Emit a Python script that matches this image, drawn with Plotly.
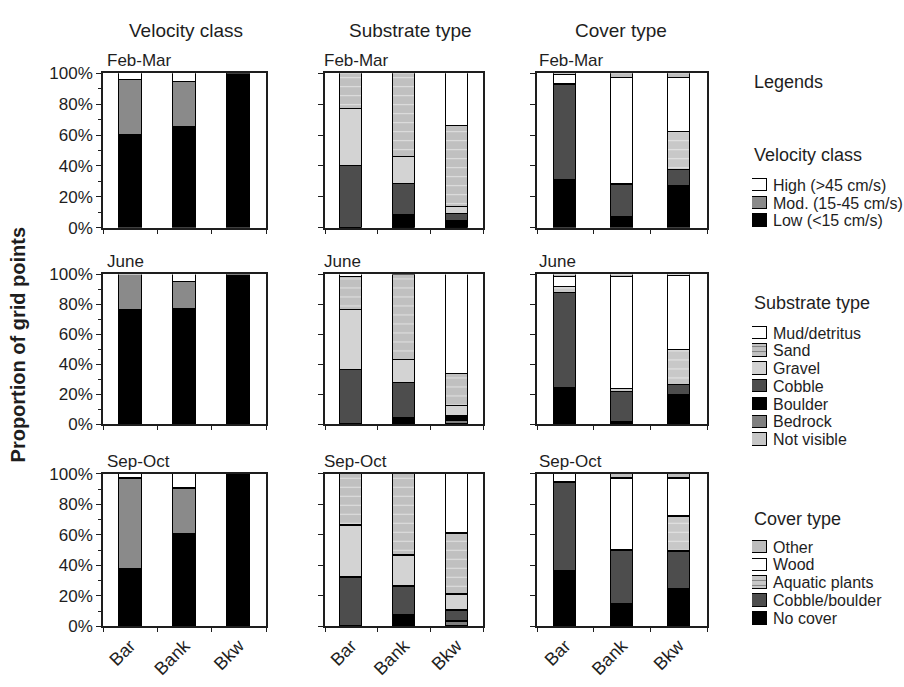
import plotly.graph_objects as go

# ---------------- data ----------------
sites = ["Bar", "Bank", "Bkw"]
periods = ["Feb-Mar", "June", "Sep-Oct"]
column_titles = ["Velocity class", "Substrate type", "Cover type"]
y_tick_vals = [0, 20, 40, 60, 80, 100]
y_tick_text = ["0%", "20%", "40%", "60%", "80%", "100%"]

# Velocity class (rows: Feb-Mar, June, Sep-Oct; values: Bar, Bank, Bkw), stacked bottom -> top
vel_names = ["Low (<15 cm/s)", "Mod. (15-45 cm/s)", "High (>45 cm/s)"]
vel_colors = ["#000000", "#8a8a8a", "#ffffff"]
vel_patterns = ["", "", ""]
vel_low = [[60, 65, 100], [76, 76.5, 100], [37, 60, 100]]
vel_mod = [[35.5, 29.5, 0], [24, 18, 0], [60, 30, 0]]
vel_high = [[4.5, 5.5, 0], [0, 5.5, 0], [3, 10, 0]]

# Substrate type, stacked bottom -> top
sub_names = ["Not visible", "Bedrock", "Boulder", "Cobble", "Gravel", "Sand", "Mud/detritus"]
sub_colors = ["#c6c6c6", "#7f7f7f", "#000000", "#4d4d4d", "#d3d3d3", "#c0c0c0", "#ffffff"]
sub_patterns = ["", "", "", "", "", "-", ""]
sub_notvis = [[0, 0, 0], [0, 0, 0], [0, 0, 0]]
sub_bedrock = [[0, 0, 0], [0, 0, 1.5], [0, 0, 3]]
sub_boulder = [[0, 8, 4], [0, 4, 4], [0, 7, 0]]
sub_cobble = [[40, 20, 5], [36, 23, 0], [32, 19, 7]]
sub_gravel = [[37, 17.5, 4.5], [40, 15.5, 6.5], [34, 20.5, 10.5]]
sub_sand = [[23, 54.5, 52], [22, 57, 21], [34, 53.5, 40]]
sub_mud = [[0, 0, 34.5], [2, 0.5, 67], [0, 0, 39.5]]

# Cover type, stacked bottom -> top
cov_names = ["No cover", "Cobble/boulder", "Aquatic plants", "Wood", "Other"]
cov_colors = ["#000000", "#4d4d4d", "#c8c8c8", "#ffffff", "#bdbdbd"]
cov_patterns = ["", "", "-", "", ""]
cov_none = [[31, 7, 27], [24, 1, 19], [36, 14, 24]]
cov_cobble = [[61, 20.5, 10], [63, 20, 7], [58, 35.5, 25]]
cov_aquatic = [[1, 1, 25], [4, 2, 23], [0, 0, 23]]
cov_wood = [[6, 68.5, 35], [7, 75, 50], [6, 47.5, 25]]
cov_other = [[1, 3, 3], [2, 2, 1], [0, 3, 3]]

groups = [
    (vel_names, vel_colors, vel_patterns, [vel_low, vel_mod, vel_high]),
    (sub_names, sub_colors, sub_patterns,
     [sub_notvis, sub_bedrock, sub_boulder, sub_cobble, sub_gravel, sub_sand, sub_mud]),
    (cov_names, cov_colors, cov_patterns, [cov_none, cov_cobble, cov_aquatic, cov_wood, cov_other]),
]

# ---------------- layout geometry (pixels) ----------------
W, H = 904, 687
col_x = [(103, 266), (325, 483), (537, 707)]
row_y = [(66, 225), (273, 427), (478, 635)]
bar_w = [0.42, 0.42, 0.39]
title_x = [105, 322, 537]
legend_y = [(172, 227), (324, 452), (544, 636)]
legend_head_y = [150, 302, 525]

FONT = "Liberation Sans, Arial, sans-serif"
INK = "#1e1e1e"


def dx(a, b):
    return [a / W, b / W]


def dy(top, bottom):
    return [1 - bottom / H, 1 - top / H]


fig = go.Figure()
layout = {}
annotations = []

for r, period in enumerate(periods):
    for c in range(3):
        k = r * 3 + c + 1
        xa = "x" if k == 1 else f"x{k}"
        ya = "y" if k == 1 else f"y{k}"
        names, colors, pats, series = groups[c]
        for name, color, pat, vals in zip(names, colors, pats, series):
            fig.add_trace(go.Bar(
                x=sites, y=vals[r], name=name, xaxis=xa, yaxis=ya,
                width=bar_w[c], showlegend=False, cliponaxis=False,
                marker=dict(color=color, line=dict(color="#000000", width=1.4),
                            pattern=dict(shape=pat, fgcolor="#ffffff", size=9, solidity=0.12)),
                hovertemplate="%{x}: %{y}%<extra>" + name + "</extra>",
            ))
        layout["xaxis" if k == 1 else f"xaxis{k}"] = dict(
            domain=dx(*col_x[c]), anchor=ya, type="category",
            categoryorder="array", categoryarray=sites, range=[-0.5, 2.5],
            tickmode="array", tickvals=sites, ticktext=sites,
            showline=True, mirror=True, linecolor=INK, linewidth=1.5,
            ticks="outside", tickson="boundaries", ticklen=4, tickcolor=INK, tickwidth=1,
            showticklabels=(r == 2), tickangle=-45,
            tickfont=dict(size=18, color=INK, family=FONT),
            showgrid=False, zeroline=False,
        )
        yax = dict(
            domain=dy(*row_y[r]), anchor=xa, range=[0, 100],
            tickvals=y_tick_vals, ticktext=y_tick_text, showticklabels=(c == 0),
            ticks="outside", ticklen=5, tickcolor=INK, tickwidth=1,
            tickfont=dict(size=17, color=INK, family=FONT),
            showline=True, mirror=True, linecolor=INK, linewidth=1.5,
            showgrid=False, zeroline=False,
        )
        if c == 0:
            yax["minor"] = dict(ticks="outside", ticklen=3, dtick=10, tick0=0,
                                tickcolor=INK, showgrid=False)
        layout["yaxis" if k == 1 else f"yaxis{k}"] = yax
        annotations.append(dict(
            text=period, x=title_x[c] / W, y=1 - (row_y[r][0] - 13) / H,
            xref="paper", yref="paper", xanchor="left", yanchor="middle",
            showarrow=False, font=dict(size=17, color=INK, family=FONT)))

# ---------------- legend blocks (swatch bars + labels on a side axis) ----------------
for g in range(3):
    k = 10 + g
    names, colors, pats, _ = groups[g]
    order = list(range(len(names)))[::-1]  # top of stack first
    labels = [names[i] for i in order]
    n = len(labels)
    fig.add_trace(go.Bar(
        x=[1] * n, y=labels, orientation="h", xaxis=f"x{k}", yaxis=f"y{k}",
        width=0.7, showlegend=False, hoverinfo="skip", cliponaxis=False,
        marker=dict(color=[colors[i] for i in order],
                    line=dict(color="#000000", width=1.4),
                    pattern=dict(shape=[pats[i] for i in order], fgcolor="#ffffff",
                                 size=5, solidity=0.2)),
    ))
    layout[f"xaxis{k}"] = dict(domain=dx(752, 767), anchor=f"y{k}", range=[0, 1],
                               visible=False, fixedrange=True)
    layout[f"yaxis{k}"] = dict(domain=dy(*legend_y[g]), anchor=f"x{k}", type="category",
                               categoryorder="array", categoryarray=labels,
                               tickmode="array", tickvals=labels, ticktext=labels,
                               range=[n - 0.5, -0.5], side="right", showline=False,
                               ticks="", showgrid=False, zeroline=False,
                               ticklabelstandoff=5,
                               tickfont=dict(size=16, color=INK, family=FONT))
    annotations.append(dict(
        text=column_titles[g], x=752 / W, y=1 - legend_head_y[g] / H,
        xref="paper", yref="paper", xanchor="left", yanchor="middle",
        showarrow=False, font=dict(size=18, color=INK, family=FONT)))

annotations.append(dict(text="Legends", x=752 / W, y=1 - 75 / H, xref="paper", yref="paper",
                        xanchor="left", yanchor="middle", showarrow=False,
                        font=dict(size=18, color=INK, family=FONT)))
for g, cx in enumerate([186, 410, 621]):
    annotations.append(dict(text=column_titles[g], x=cx / W, y=1 - 22 / H,
                            xref="paper", yref="paper", xanchor="center", yanchor="middle",
                            showarrow=False, font=dict(size=19, color=INK, family=FONT)))
annotations.append(dict(text="<b>Proportion of grid points</b>", x=18 / W, y=1 - 345 / H,
                        xref="paper", yref="paper", xanchor="center", yanchor="middle",
                        textangle=-90, showarrow=False,
                        font=dict(size=20, color=INK, family=FONT)))

fig.update_layout(
    width=W, height=H, margin=dict(l=0, r=0, t=0, b=0),
    paper_bgcolor="white", plot_bgcolor="white",
    barmode="stack", bargap=0, showlegend=False,
    font=dict(family=FONT, color=INK),
    annotations=annotations,
    **layout,
)

fig.write_html("out.html")
